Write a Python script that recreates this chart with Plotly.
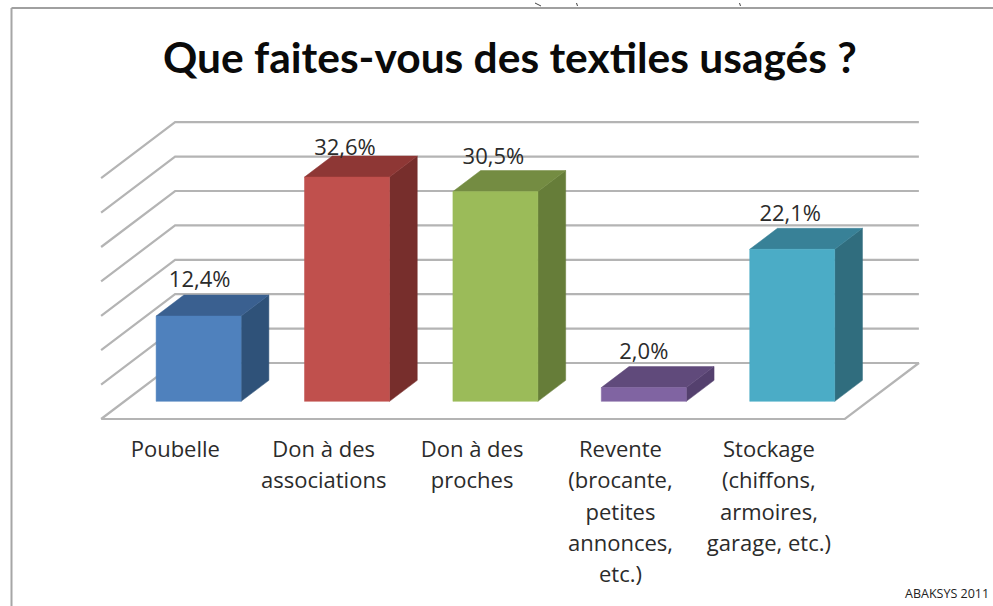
import plotly.graph_objects as go

# ---- data ----
title = "Que faites-vous des textiles usagés ?"
credit = "ABAKSYS 2011"
categories = [
    ["Poubelle"],
    ["Don à des", "associations"],
    ["Don à des", "proches"],
    ["Revente", "(brocante,", "petites", "annonces,", "etc.)"],
    ["Stockage", "(chiffons,", "armoires,", "garage, etc.)"],
]
values = [12.4, 32.6, 30.5, 2.0, 22.1]
value_labels = ["12,4%", "32,6%", "30,5%", "2,0%", "22,1%"]
grid_levels = [0, 5, 10, 15, 20, 25, 30, 35]

# ---- styles ----
front_colors = ["#4F81BD", "#C0504D", "#9BBB59", "#8064A2", "#4BACC6"]
side_colors = ["#2F5279", "#772E2C", "#667D39", "#54406E", "#306D7E"]
top_colors = ["#3A6090", "#8E3735", "#748C42", "#604A7B", "#388197"]
GRID = "#B4B4B4"
TEXT = "#2B2B2B"
TITLE_FONT = "Lato, Carlito, sans-serif"
FONT = "Open Sans, sans-serif"

# ---- oblique projection: 1 x-unit = one category, 1 y-unit = one percent ----
W, H = 993, 606
PX_X = 148.4            # px per category
PX_Y = 6.88             # px per percent
X_ORIGIN_PX = 175.3     # centre of the first category on the floor front edge
Y_ORIGIN_PX = 419.0     # floor front edge
DX = 74 / PX_X          # shift of full depth
DY = 56 / PX_Y
BAR_W = 85 / PX_X
BAR_D0, BAR_D1 = 0.315, 0.69
RIGHT = 4.5 + 0.012


def proj(x, v, d):
    return x + DX * d, v + DY * d


def poly(points, color):
    xy = [proj(*p) for p in points]
    xy.append(xy[0])
    return go.Scatter(x=[a for a, _ in xy], y=[b for _, b in xy], mode="lines",
                      fill="toself", fillcolor=color,
                      line=dict(color=color, width=0.5),
                      hoverinfo="skip", showlegend=False)


def text_trace(x, y, txt, size, color=TEXT):
    return go.Scatter(x=[x], y=[y], text=[txt], mode="text",
                      textposition="middle center",
                      textfont=dict(family=FONT, size=size, color=color),
                      hoverinfo="skip", showlegend=False)


fig = go.Figure()

# walls and floor
for lv in grid_levels:
    pts = [proj(-0.5, lv, 0), proj(-0.5, lv, 1), proj(RIGHT, lv, 1)]
    if lv == 0:
        pts += [proj(RIGHT, lv, 0), proj(-0.5, lv, 0)]
    fig.add_trace(go.Scatter(x=[p[0] for p in pts], y=[p[1] for p in pts], mode="lines",
                             line=dict(color=GRID, width=2.2),
                             hoverinfo="skip", showlegend=False))

# bars
for i, v in enumerate(values):
    l, r = i - BAR_W / 2, i + BAR_W / 2
    d0, d1 = BAR_D0, BAR_D1
    fig.add_trace(poly([(r, 0, d0), (r, 0, d1), (r, v, d1), (r, v, d0)], side_colors[i]))
    fig.add_trace(poly([(l, v, d0), (r, v, d0), (r, v, d1), (l, v, d1)], top_colors[i]))
    fig.add_trace(poly([(l, 0, d0), (r, 0, d0), (r, v, d0), (l, v, d0)], front_colors[i]))

# value labels
label_nudge_x = [1, -2, -2, 0, -2]
label_nudge_y = [14, 7, 12, 13, 13]
for i, (v, lab) in enumerate(zip(values, value_labels)):
    x, y = proj(i, v, BAR_D0)
    back_y = proj(i, v, BAR_D1)[1]
    fig.add_trace(text_trace(x + label_nudge_x[i] / PX_X,
                             back_y + label_nudge_y[i] / PX_Y, lab, 22))

# category labels
LINE_PITCH = 31.3
FIRST_LINE = 32.5
for i, lines in enumerate(categories):
    for j, line in enumerate(lines):
        fig.add_trace(text_trace(i, -(FIRST_LINE + j * LINE_PITCH) / PX_Y, line, 22))

x_range = [-X_ORIGIN_PX / PX_X, (W - X_ORIGIN_PX) / PX_X]
y_range = [-(H - Y_ORIGIN_PX) / PX_Y, Y_ORIGIN_PX / PX_Y]

shapes = [
    dict(type="line", xref="paper", yref="paper", x0=11.5 / W, x1=11.5 / W, y0=0, y1=1 - 8 / H,
         line=dict(color="#A6A6A6", width=2)),
    dict(type="line", xref="paper", yref="paper", x0=11.5 / W, x1=1, y0=1 - 8 / H, y1=1 - 8 / H,
         line=dict(color="#A0A0A0", width=2)),
]
for sx, wd in [(538, 6), (577, 1), (740, 1)]:
    shapes.append(dict(type="line", xref="paper", yref="paper", x0=(sx - wd / 2) / W, x1=(sx + wd / 2) / W,
                       y0=1 - 3 / H, y1=1 - 6 / H, line=dict(color="#444444", width=1)))

fig.update_layout(
    width=W, height=H, autosize=False,
    margin=dict(l=0, r=0, t=0, b=0),
    paper_bgcolor="white", plot_bgcolor="white",
    xaxis=dict(range=x_range, visible=False, fixedrange=True),
    yaxis=dict(range=y_range, visible=False, fixedrange=True),
    shapes=shapes,
    annotations=[
        dict(text=f"<b>{title}</b>", xref="paper", yref="paper", x=510 / W, y=1 - 57 / H,
             xanchor="center", yanchor="middle", showarrow=False,
             font=dict(family=TITLE_FONT, size=42.5, color="#0A0A0A")),
        dict(text=credit, xref="paper", yref="paper", x=990.5 / W, y=1 - 593 / H,
             xanchor="right", yanchor="middle", showarrow=False,
             font=dict(family=FONT, size=12.5, color="#222222")),
    ],
)

fig.write_html(
    "out.html",
    post_script="document.documentElement.style.overflow='hidden';document.body.style.margin='0';",
    config={"displayModeBar": False},
)
